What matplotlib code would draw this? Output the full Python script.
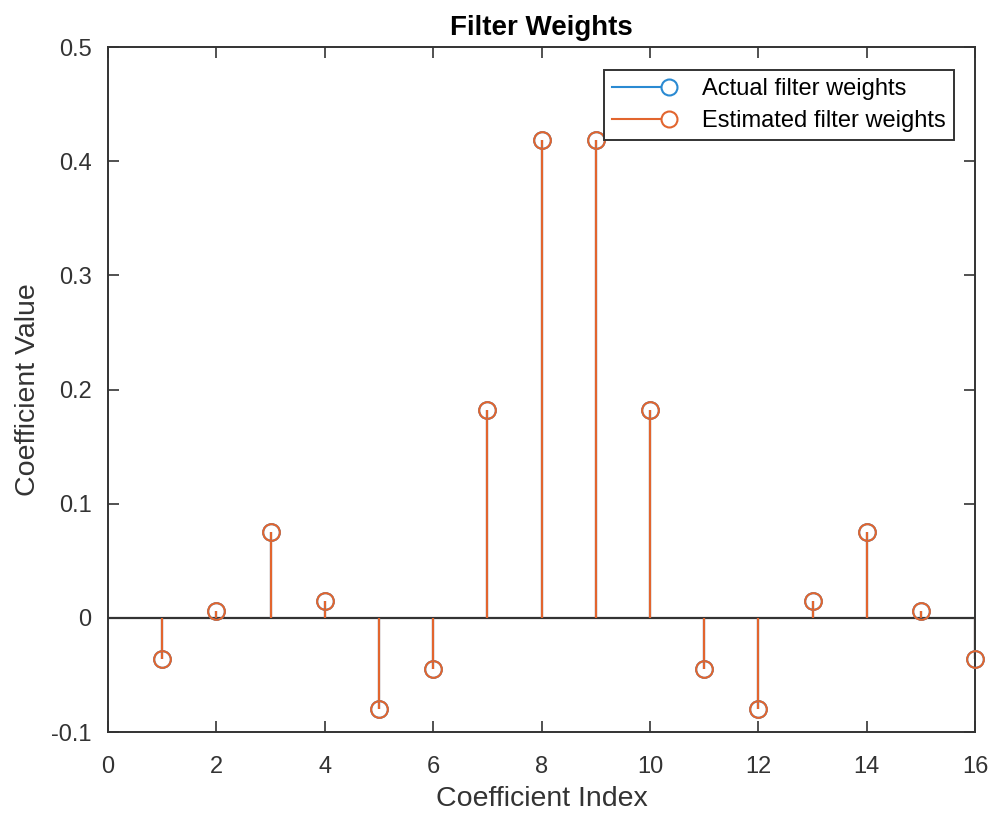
import matplotlib.pyplot as plt
from matplotlib.lines import Line2D
from matplotlib.legend_handler import HandlerBase

plt.rcParams['font.family'] = ['Liberation Sans', 'DejaVu Sans']

# Filter coefficients (symmetric lowpass FIR, 16 taps)
coef_index = list(range(1, 17))
actual_weights = [-0.036, 0.006, 0.075, 0.015, -0.080, -0.045, 0.182, 0.419,
                  0.419, 0.182, -0.045, -0.080, 0.015, 0.075, 0.006, -0.036]
estimated_weights = [-0.036, 0.006, 0.075, 0.015, -0.080, -0.045, 0.182, 0.419,
                     0.419, 0.182, -0.045, -0.080, 0.015, 0.075, 0.006, -0.036]

blue = '#2A8AD2'
orange = '#E2652E'
dark = '#333333'


class StemLegendHandler(HandlerBase):
    # line with a single open circle at its right end
    def create_artists(self, legend, orig_handle, xdescent, ydescent,
                       width, height, fontsize, trans):
        y = height / 2 - ydescent
        x0, x1 = -xdescent, width - xdescent
        col = orig_handle.get_color()
        line = Line2D([x0, x1], [y, y], color=col, linewidth=1.5, transform=trans)
        mark = Line2D([x1], [y], color=col, marker='o', linestyle='none',
                      markerfacecolor='white', markersize=11.5,
                      markeredgewidth=1.5, transform=trans)
        return [line, mark]


fig = plt.figure(figsize=(9.94, 8.15), dpi=100)
ax = fig.add_axes([0.1087, 0.1018, 0.8723, 0.8405])

# actual weights first, estimated drawn on top
for vals, col in [(actual_weights, blue), (estimated_weights, orange)]:
    ml, sl, bl = ax.stem(coef_index, vals, basefmt=' ')
    plt.setp(sl, color=col, linewidth=1.6)
    plt.setp(ml, color=col, markerfacecolor='none', markersize=12,
             markeredgewidth=1.5, clip_on=False, zorder=4)

ax.axhline(0, color=dark, linewidth=1.6, zorder=1)

ax.set_xlim(0, 16)
ax.set_ylim(-0.1, 0.5)
ax.set_xticks(range(0, 17, 2))
ax.set_yticks([-0.1, 0, 0.1, 0.2, 0.3, 0.4, 0.5])
ax.set_yticklabels(['-0.1', '0', '0.1', '0.2', '0.3', '0.4', '0.5'])
ax.tick_params(direction='in', top=True, right=True, length=8, width=1.2,
               colors=dark, labelsize=17)
ax.tick_params(axis='x', pad=17)
ax.tick_params(axis='y', pad=12)
for s in ax.spines.values():
    s.set_color(dark)
    s.set_linewidth(1.4)

ax.set_title('Filter Weights', fontsize=20, fontweight='bold', color='black', pad=9)
ax.set_xlabel('Coefficient Index', fontsize=20.5, color=dark, labelpad=6)
ax.set_ylabel('Coefficient Value', fontsize=20.5, color=dark, labelpad=7)

handles = [Line2D([0], [0], color=blue), Line2D([0], [0], color=orange)]
leg = ax.legend(handles, ['Actual filter weights', 'Estimated filter weights'],
                handler_map={Line2D: StemLegendHandler()},
                loc='upper right', bbox_to_anchor=(0.9755, 0.967), fontsize=17,
                fancybox=False, edgecolor=dark, framealpha=1,
                handlelength=2.4, borderpad=0.35, labelspacing=0.42,
                handletextpad=1.4, borderaxespad=0)
leg.get_frame().set_linewidth(1.4)

fig.savefig('out.png', dpi=100)
